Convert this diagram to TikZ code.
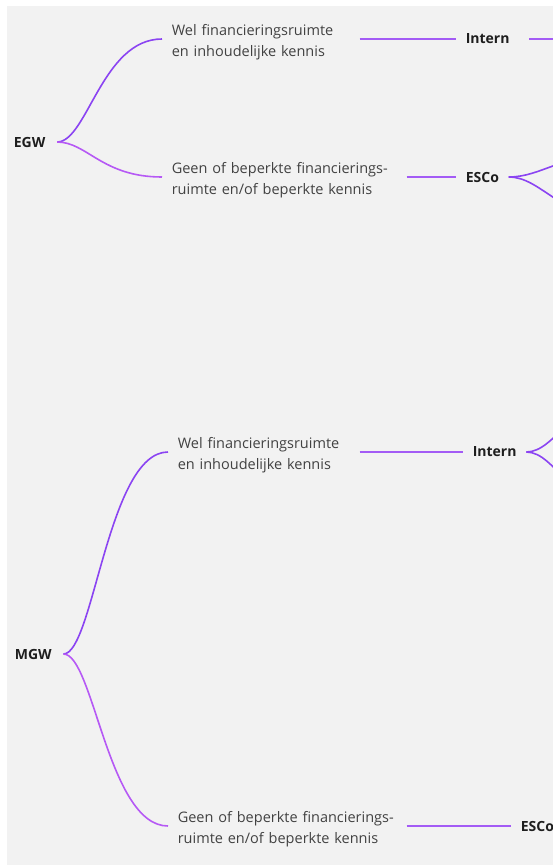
\documentclass[tikz,border=0pt]{standalone}
\usepackage{fontspec}
\setmainfont{Open Sans}
\usepackage{tikz}
\definecolor{paper}{HTML}{F2F2F2}
\definecolor{txtgray}{HTML}{424242}
\definecolor{lblgray}{HTML}{1E1E1E}
\definecolor{violetup}{HTML}{8B44F2}
\definecolor{violetdn}{HTML}{B659F5}
\definecolor{violetln}{HTML}{A35BF5}

\begin{document}
\begin{tikzpicture}[x=1pt,y=-1pt,line width=1.6pt,
  txt/.style={font=\fontsize{14.5}{21}\selectfont,text=txtgray,align=left,
    inner xsep=9pt,inner ysep=0pt,anchor=west,text height=13pt,text depth=21pt},
  lbl/.style={font=\fontsize{14}{21}\selectfont\bfseries,text=lblgray,
    inner xsep=9pt,anchor=west},
  up/.style={draw=violetup},
  dn/.style={draw=violetdn},
  link/.style={draw=violetln}]
  \useasboundingbox (0,0) rectangle (553,865);
  \clip (0,0) rectangle (553,865);
  \fill [paper](7,6) rectangle (553,865);
  % EGW
  \node (egw) at (4,142) [lbl]{EGW};
  \node (egwa) at (162,39) [txt,text width=178pt]{Wel financieringsruimte\\en inhoudelijke kennis};
  \node (egwb) at (162,177) [txt,text width=225pt]{Geen of beperkte financierings-\\ruimte en/of beperkte kennis};
  \node (egwi) at (456,39) [lbl]{Intern};
  \node (egwe) at (456,177) [lbl]{ESCo};
  \coordinate (egwiout) at (620,39);
  \coordinate (egweup) at (620,154);
  \coordinate (egwedn) at (620,219);
  \draw [up]([xshift=2pt]egw.east)..controls +(30,0) and +(-60,0)..(egwa.west);
  \draw [dn]([xshift=2pt]egw.east)..controls +(30,0) and +(-60,0)..(egwb.west);
  \draw [link](egwa.east)--(egwi.west);
  \draw [link](egwb.east)--(egwe.west);
  \draw [link]([xshift=10pt]egwi.east)--(egwiout);
  \draw [up](egwe.east)..controls +(33,0) and +(-60,0)..(egweup);
  \draw [up](egwe.east)..controls +(33,0) and +(-60,0)..(egwedn);
  % MGW
  \node (mgw) at (5,654) [lbl]{MGW};
  \node (mgwa) at (168,452) [txt,text width=172pt]{Wel financieringsruimte\\en inhoudelijke kennis};
  \node (mgwb) at (168,826) [txt,text width=219pt]{Geen of beperkte financierings-\\ruimte en/of beperkte kennis};
  \node (mgwi) at (463,452) [lbl]{Intern};
  \node (mgwe) at (511,826) [lbl]{ESCo};
  \coordinate (mgwiup) at (628,396);
  \coordinate (mgwidn) at (628,512);
  \draw [up]([xshift=2pt]mgw.east)..controls +(30,0) and +(-60,0)..(mgwa.west);
  \draw [dn]([xshift=2pt]mgw.east)..controls +(30,0) and +(-60,0)..(mgwb.west);
  \draw [link](mgwa.east)--(mgwi.west);
  \draw [link](mgwb.east)--(mgwe.west);
  \draw [up](mgwi.east)..controls +(30,0) and +(-55,0)..(mgwiup);
  \draw [up](mgwi.east)..controls +(30,0) and +(-55,0)..(mgwidn);
\end{tikzpicture}
\end{document}
